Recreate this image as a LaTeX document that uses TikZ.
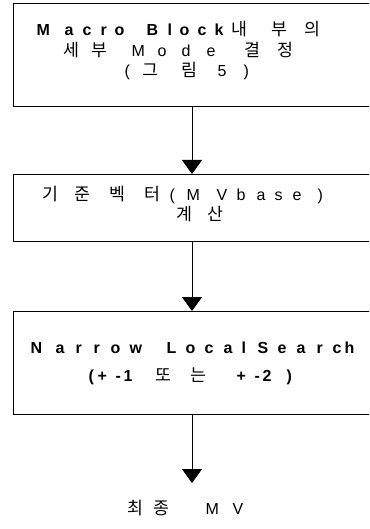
\documentclass[tikz,border=0pt]{standalone}
\usepackage{fontspec}
\setmainfont{Liberation Sans}
\newfontfamily\ko[Scale=1.08]{Noto Sans CJK KR}
\usetikzlibrary{arrows.meta}
\newcommand\gl[2]{\rlap{\hspace*{#1pt}#2}}
\newcommand\K[1]{{\ko\mdseries #1}}
\begin{document}
\begin{tikzpicture}[x=1pt,y=-1pt,
  boxst/.style={draw,line width=1pt,rectangle,inner sep=0pt,anchor=north west,minimum width=380pt},
  txt/.style={anchor=base west,inner sep=0pt,font=\fontsize{16}{19}\selectfont},
  txtb/.style={txt,font=\fontsize{16}{19}\selectfont\bfseries},
  arr/.style={line width=0.9pt,-{Triangle[length=14pt,width=20pt]}}]
\useasboundingbox (0,0) rectangle (369,529);
\clip (0,0) rectangle (369,529);
\node[boxst,minimum height=103pt] (b1) at (13,3) {};
\node[boxst,minimum height=67pt] (b2) at (13,174) {};
\node[boxst,minimum height=103pt] (b3) at (13,311) {};
\coordinate (col) at (192,0);
\coordinate (endpt) at (192,483);
\node[txtb] (t1a) at (0,35.5) {\gl{36}{M}\gl{64}{a}\gl{82}{c}\gl{100}{r}\gl{114}{o}\gl{146}{B}\gl{167}{l}\gl{179}{o}\gl{197}{c}\gl{214}{k}\gl{231}{\K{내}}\gl{271}{\K{부}}\gl{304}{\K{의}}};
\node[txt] (t1b) at (0,56.5) {\gl{63}{\K{세}}\gl{91}{\K{부}}\gl{131}{M}\gl{157}{o}\gl{181}{d}\gl{206}{e}\gl{244}{\K{결}}\gl{277}{\K{정}}};
\node[txt] (t1c) at (0,76.5) {\gl{124}{(}\gl{142}{\K{그}}\gl{181}{\K{림}}\gl{217}{5}\gl{243}{)}};
\node[txt] (t2a) at (0,200.5) {\gl{42}{\K{기}}\gl{74}{\K{준}}\gl{109}{\K{벡}}\gl{144}{\K{터}}\gl{169}{(}\gl{186}{M}\gl{216}{V}\gl{236}{b}\gl{256}{a}\gl{274}{s}\gl{292}{e}\gl{317}{)}};
\node[txt] (t2b) at (0,220) {\gl{176}{\K{계}}\gl{207}{\K{산}}};
\node[txtb] (t3a) at (0,353.5) {\gl{30}{N}\gl{55}{a}\gl{75}{r}\gl{93}{r}\gl{110}{o}\gl{129}{w}\gl{166}{L}\gl{185}{o}\gl{204}{c}\gl{223}{a}\gl{241}{l}\gl{257}{S}\gl{277}{e}\gl{296}{a}\gl{316}{r}\gl{332}{c}\gl{344}{h}};
\node[txtb] (t3b) at (0,381.5) {\gl{88}{(}\gl{97}{+}\gl{115}{-}\gl{123}{1}\gl{155}{\K{또}}\gl{190}{\K{는}}\gl{236}{+}\gl{254}{-}\gl{262}{2}\gl{286}{)}};
\node[txt] (t4) at (0,514) {\gl{127}{\K{최}}\gl{153}{\K{종}}\gl{205}{M}\gl{232}{V}};
\draw[arr] (b1.south -| col) -- (b2.north -| col);
\draw[arr] (b2.south -| col) -- (b3.north -| col);
\draw[arr] (b3.south -| col) -- (endpt);
\end{tikzpicture}
\end{document}
